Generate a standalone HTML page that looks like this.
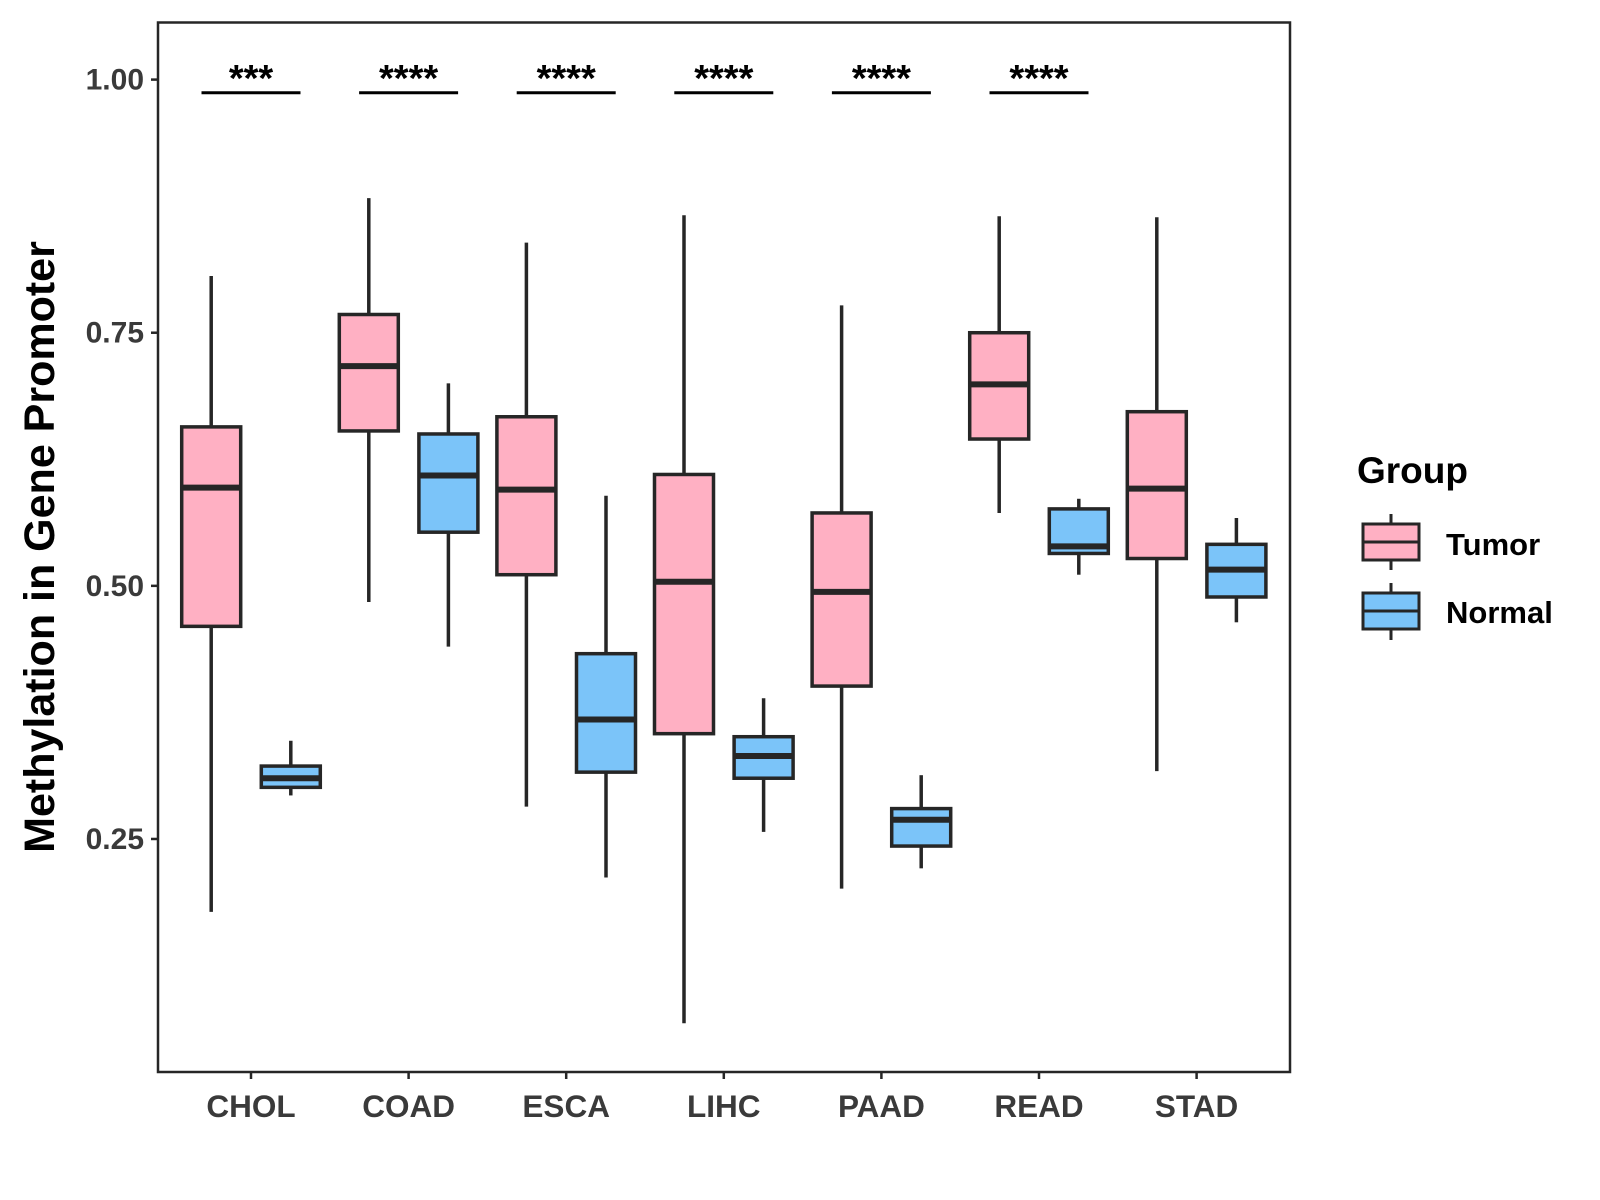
<!DOCTYPE html>
<html><head><meta charset="utf-8"><style>
html,body{margin:0;padding:0;background:#fff;}
svg{display:block;font-family:"Liberation Sans",Arial,sans-serif;}
</style></head><body>
<svg id="chart" width="1600" height="1200" viewBox="0 0 1600 1200">
<rect x="158" y="22.5" width="1132" height="1049.5" fill="#fff" stroke="#262626" stroke-width="2.5"/>
<g id="ticks"></g>
<g id="boxes"></g>
<g id="sig"></g>
<text x="54" y="547" transform="rotate(-90 54 547)" text-anchor="middle" font-size="43" font-weight="bold" fill="#000">Methylation in Gene Promoter</text>
<g>
<text x="1357" y="483" font-size="37" font-weight="bold" fill="#000">Group</text>
<g>
<line x1="1391" y1="514" x2="1391" y2="570" stroke="#262626" stroke-width="3"/>
<rect x="1363" y="524" width="56" height="36" fill="#FFB0C3" stroke="#262626" stroke-width="3"/>
<line x1="1363" y1="542" x2="1419" y2="542" stroke="#262626" stroke-width="3"/>
<text x="1446" y="555" font-size="31" font-weight="bold" fill="#000">Tumor</text>
</g>
<g>
<line x1="1391" y1="583" x2="1391" y2="640" stroke="#262626" stroke-width="3"/>
<rect x="1363" y="593" width="56" height="36" fill="#7BC4F9" stroke="#262626" stroke-width="3"/>
<line x1="1363" y1="611" x2="1419" y2="611" stroke="#262626" stroke-width="3"/>
<text x="1446" y="623" font-size="31" font-weight="bold" fill="#000">Normal</text>
</g>
</g>
</svg>
<script>
const categories=["CHOL","COAD","ESCA","LIHC","PAAD","READ","STAD"];
// [low, q1, median, q3, high]
const tumorStats=[[0.178,0.460,0.597,0.657,0.806],[0.484,0.653,0.717,0.768,0.883],[0.282,0.511,0.595,0.667,0.839],[0.068,0.354,0.504,0.610,0.866],[0.201,0.401,0.494,0.572,0.777],[0.572,0.645,0.699,0.750,0.865],[0.317,0.527,0.596,0.672,0.864]];
const normalStats=[[0.293,0.301,0.310,0.322,0.347],[0.440,0.553,0.609,0.650,0.700],[0.212,0.316,0.368,0.433,0.589],[0.257,0.310,0.332,0.351,0.389],[0.221,0.243,0.269,0.280,0.313],[0.511,0.532,0.539,0.576,0.586],[0.464,0.489,0.516,0.541,0.567]];
const yTicks=[0.25,0.50,0.75,1.00];
const sigLabels=["***","****","****","****","****","****",""];
const sigY=0.987;
const NS="http://www.w3.org/2000/svg";
function y(v){return 79.6+(1-v)*1012.5;}
function x(i){return 251+i*157.6;}
function mk(tag,attrs,parent){const e=document.createElementNS(NS,tag);for(const k in attrs)e.setAttribute(k,attrs[k]);parent.appendChild(e);return e;}
const tg=document.getElementById('ticks');
yTicks.forEach(v=>{
 const l=mk('line',{x1:151,x2:158,y1:y(v),y2:y(v),stroke:'#262626','stroke-width':2.5},tg);
 
 
 const t=mk('text',{x:144,y:y(v)+10,'text-anchor':'end','font-size':30,'font-weight':'bold',fill:'#3a3a3a'},tg);
 t.textContent=v.toFixed(2);
 
 
});
categories.forEach((c,i)=>{
 const l=mk('line',{x1:x(i),x2:x(i),y1:1072,y2:1079,stroke:'#262626','stroke-width':2.5},tg);
 
 
 const t=mk('text',{x:x(i),y:1117,'text-anchor':'middle','font-size':31.5,'font-weight':'bold',fill:'#3a3a3a'},tg);
 t.textContent=c;
 
 
});
const bg=document.getElementById('boxes');
function box(s,cx,fill,name){
 const g=mk('g',{},bg);
 
 
 const w=59;
 mk('line',{x1:cx,x2:cx,y1:y(s[4]),y2:y(s[3]),stroke:'#262626','stroke-width':3.5},g);
 mk('line',{x1:cx,x2:cx,y1:y(s[1]),y2:y(s[0]),stroke:'#262626','stroke-width':3.5},g);
 mk('rect',{x:cx-w/2,y:y(s[3]),width:w,height:y(s[1])-y(s[3]),fill:fill,stroke:'#262626','stroke-width':3.5},g);
 mk('line',{x1:cx-w/2,x2:cx+w/2,y1:y(s[2]),y2:y(s[2]),stroke:'#262626','stroke-width':6},g);
}
categories.forEach((c,i)=>{
 box(tumorStats[i],x(i)-39.8,'#FFB0C3','box-tumor-'+c.toLowerCase());
 box(normalStats[i],x(i)+39.8,'#7BC4F9','box-normal-'+c.toLowerCase());
});
const sg=document.getElementById('sig');
sigLabels.forEach((s,i)=>{
 if(!s)return;
 const l=mk('line',{x1:x(i)-49.5,x2:x(i)+49.5,y1:y(sigY),y2:y(sigY),stroke:'#000','stroke-width':3},sg);
 
 
 const t=mk('text',{x:x(i),y:y(sigY)-2,'text-anchor':'middle','font-size':38,'font-weight':'bold',fill:'#000'},sg);
 t.textContent=s;
 
 
});
</script>
</body></html>
